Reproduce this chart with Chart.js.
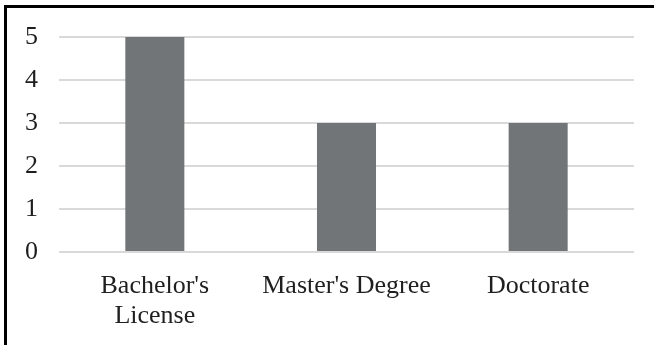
<!DOCTYPE html>
<html>
<head>
<meta charset="utf-8">
<script src="https://cdn.jsdelivr.net/npm/chart.js@4"></script>
<style>
  html, body { margin: 0; padding: 0; background: #fff; overflow: hidden; }
  #wrap { position: relative; width: 654px; height: 345px; }
  #frame {
    position: absolute; left: 4px; top: 5px; width: 700px; height: 400px;
    border-top: 3px solid #000; border-left: 3px solid #000;
    pointer-events: none;
  }
</style>
</head>
<body>
<div id="wrap">
  <canvas id="chart" width="654" height="345"></canvas>
  <div id="frame"></div>
</div>
<script>
// chart data
const categories = [["Bachelor's", "License"], "Master's Degree", "Doctorate"];
const counts = [5, 3, 3];
const yTicks = [0, 1, 2, 3, 4, 5];

document.addEventListener("DOMContentLoaded", function() {
  const ctx = document.getElementById('chart');
  const font = { family: "'Liberation Serif', 'Times New Roman', serif", size: 26, lineHeight: 1.15 };

  new Chart(ctx, {
    type: 'bar',
    data: {
      labels: categories,
      datasets: [{
        data: counts,
        backgroundColor: '#727578',
        barPercentage: 0.308,
        categoryPercentage: 1
      }]
    },
    options: {
      responsive: false,
      animation: false,
      layout: { padding: { left: 0, top: 37, right: 20, bottom: 0 } },
      plugins: { legend: { display: false }, tooltip: { enabled: false } },
      scales: {
        x: {
          grid: { display: false },
          border: { display: false },
          ticks: { color: '#1f1f1f', font: font, padding: 11, maxRotation: 0, autoSkip: false },
          afterFit: function(scale) { scale.height = 93; }
        },
        y: {
          min: yTicks[0],
          max: yTicks[yTicks.length - 1],
          grid: { color: '#d9d9d9', lineWidth: 2, drawTicks: false },
          border: { display: false },
          ticks: { color: '#1f1f1f', font: font, padding: 21, stepSize: 1 },
          afterFit: function(scale) { scale.width = 59; }
        }
      }
    }
  });
});
</script>
</body>
</html>
